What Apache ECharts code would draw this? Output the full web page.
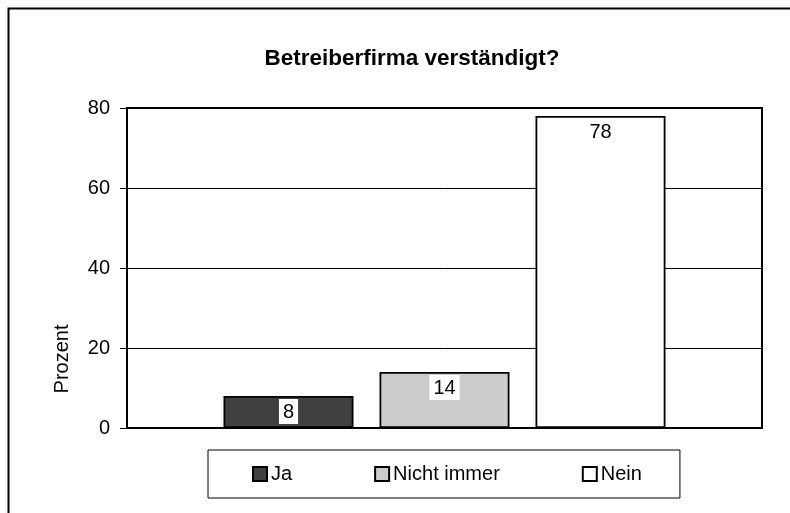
<!DOCTYPE html>
<html>
<head>
<meta charset="utf-8">
<script src="https://cdn.jsdelivr.net/npm/echarts@6/dist/echarts.min.js"></script>
<style>
  html, body { margin: 0; padding: 0; background: #fff; }
  #chart { width: 790px; height: 513px; }
</style>
</head>
<body>
<div id="chart"></div>
<script>
var categories = ['Ja', 'Nicht immer', 'Nein'];
var values = [8, 14, 78];
var colors = ['#404040', '#cccccc', '#ffffff'];
var yMin = 0, yMax = 80, yStep = 20;

var myChart = echarts.init(document.getElementById('chart'));

var series = categories.map(function (name, i) {
    return {
        name: name,
        type: 'bar',
        data: [values[i]],
        barWidth: 130,
        barGap: '20%',
        itemStyle: {
            color: colors[i],
            borderColor: '#000',
            borderWidth: 1.8
        },
        label: {
            show: true,
            position: 'insideTop',
            distance: 3,
            color: '#000',
            fontFamily: 'Liberation Sans, Arial',
            fontSize: 20,
            backgroundColor: '#fff',
            padding: [3, 4, 2, 4]
        }
    };
});

var option = {
    animation: false,
    title: {
        text: 'Betreiberfirma verständigt?',
        left: 407,
        textAlign: 'center',
        top: 42,
        textStyle: {
            fontFamily: 'Liberation Sans, Arial',
            fontWeight: 'bold',
            fontSize: 22.5,
            color: '#000'
        }
    },
    legend: {
        data: categories,
        left: 208,
        top: 450,
        itemGap: 82,
        itemWidth: 14,
        itemHeight: 14,
        padding: [14, 38, 14, 44],
        borderColor: '#000',
        borderWidth: 1,
        icon: 'rect',
        textStyle: {
            fontFamily: 'Liberation Sans, Arial',
            fontSize: 20,
            color: '#000',
            padding: [0, 0, 0, -1]
        }
    },
    grid: {
        left: 127,
        right: 28,
        top: 108,
        bottom: 85,
        show: true,
        borderColor: '#000',
        borderWidth: 2,
        backgroundColor: 'transparent'
    },
    xAxis: {
        type: 'category',
        data: [''],
        axisLine: { lineStyle: { color: '#000', width: 2 } },
        axisTick: { show: false },
        axisLabel: { show: false }
    },
    yAxis: {
        type: 'value',
        min: yMin,
        max: yMax,
        interval: yStep,
        axisLine: { show: true, lineStyle: { color: '#000', width: 2 } },
        axisTick: { show: true, length: 7, lineStyle: { color: '#000' } },
        axisLabel: {
            fontFamily: 'Liberation Sans, Arial',
            fontSize: 20,
            color: '#000',
            margin: 17
        },
        splitLine: { lineStyle: { color: '#000', width: 1 } }
    },
    graphic: [
        {
            type: 'rect',
            shape: { x: 8.5, y: 8.5, width: 800, height: 520 },
            style: { fill: 'none', stroke: '#000', lineWidth: 2 },
            silent: true
        },
        {
            type: 'text',
            x: 62,
            y: 359,
            rotation: Math.PI / 2,
            style: {
                text: 'Prozent',
                fontFamily: 'Liberation Sans, Arial',
                fontSize: 20,
                fill: '#000',
                textAlign: 'center',
                textVerticalAlign: 'middle'
            }
        }
    ],
    series: series
};

myChart.setOption(option);
</script>
</body>
</html>
